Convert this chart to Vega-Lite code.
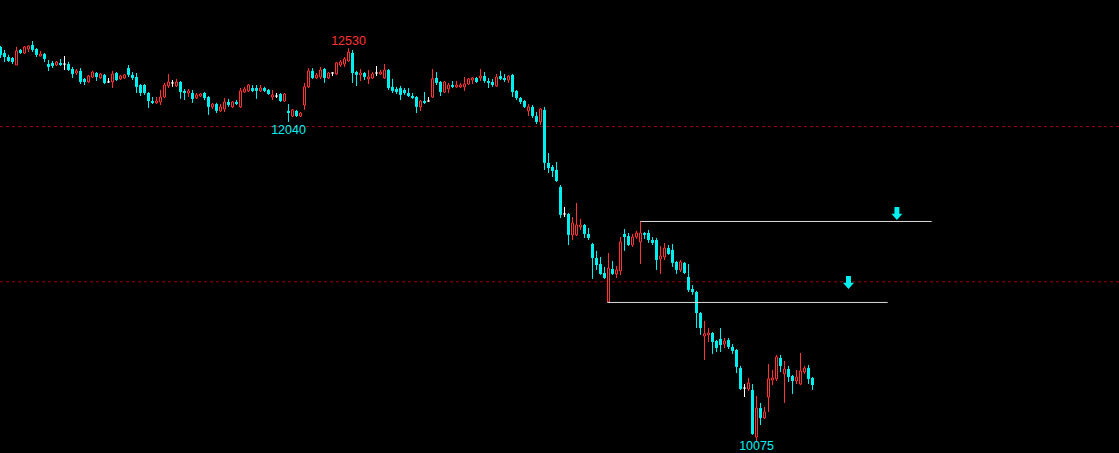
{
  "$schema": "https://vega.github.io/schema/vega-lite/v6.json",
  "width": 1119,
  "height": 453,
  "autosize": {"type": "none"},
  "padding": 0,
  "background": "#000000",
  "config": {"view": {"stroke": null}, "scale": {"continuousPadding": 0}},
  "datasets": {
    "candles": [
      {"i":0,"open":12538,"high":12544,"low":12469,"close":12488},
      {"i":1,"open":12500,"high":12519,"low":12444,"close":12475},
      {"i":2,"open":12475,"high":12488,"low":12444,"close":12450},
      {"i":3,"open":12469,"high":12475,"low":12431,"close":12444},
      {"i":4,"open":12425,"high":12538,"low":12425,"close":12513},
      {"i":5,"open":12519,"high":12525,"low":12494,"close":12500},
      {"i":6,"open":12500,"high":12544,"low":12494,"close":12538},
      {"i":7,"open":12525,"high":12550,"low":12506,"close":12544},
      {"i":8,"open":12550,"high":12575,"low":12506,"close":12519},
      {"i":9,"open":12525,"high":12531,"low":12475,"close":12488},
      {"i":10,"open":12481,"high":12513,"low":12481,"close":12494},
      {"i":11,"open":12494,"high":12500,"low":12444,"close":12463},
      {"i":12,"open":12431,"high":12456,"low":12388,"close":12413},
      {"i":13,"open":12438,"high":12450,"low":12406,"close":12419},
      {"i":14,"open":12425,"high":12450,"low":12419,"close":12444},
      {"i":15,"open":12438,"high":12463,"low":12419,"close":12425},
      {"i":16,"open":12431,"high":12481,"low":12394,"close":12431},
      {"i":17,"open":12431,"high":12444,"low":12388,"close":12394},
      {"i":18,"open":12400,"high":12413,"low":12344,"close":12369},
      {"i":19,"open":12375,"high":12400,"low":12363,"close":12388},
      {"i":20,"open":12388,"high":12406,"low":12306,"close":12319},
      {"i":21,"open":12338,"high":12344,"low":12300,"close":12319},
      {"i":22,"open":12319,"high":12363,"low":12313,"close":12356},
      {"i":23,"open":12350,"high":12388,"low":12344,"close":12381},
      {"i":24,"open":12375,"high":12381,"low":12325,"close":12350},
      {"i":25,"open":12344,"high":12375,"low":12338,"close":12369},
      {"i":26,"open":12363,"high":12369,"low":12306,"close":12313},
      {"i":27,"open":12319,"high":12344,"low":12313,"close":12319},
      {"i":28,"open":12319,"high":12388,"low":12281,"close":12369},
      {"i":29,"open":12375,"high":12381,"low":12325,"close":12331},
      {"i":30,"open":12338,"high":12363,"low":12331,"close":12356},
      {"i":31,"open":12344,"high":12369,"low":12338,"close":12363},
      {"i":32,"open":12406,"high":12425,"low":12350,"close":12363},
      {"i":33,"open":12363,"high":12381,"low":12331,"close":12344},
      {"i":34,"open":12350,"high":12375,"low":12250,"close":12288},
      {"i":35,"open":12300,"high":12306,"low":12231,"close":12250},
      {"i":36,"open":12300,"high":12306,"low":12238,"close":12250},
      {"i":37,"open":12250,"high":12256,"low":12156,"close":12200},
      {"i":38,"open":12200,"high":12225,"low":12181,"close":12188},
      {"i":39,"open":12188,"high":12225,"low":12181,"close":12200},
      {"i":40,"open":12194,"high":12269,"low":12175,"close":12225},
      {"i":41,"open":12225,"high":12313,"low":12219,"close":12300},
      {"i":42,"open":12294,"high":12369,"low":12281,"close":12319},
      {"i":43,"open":12313,"high":12331,"low":12288,"close":12313},
      {"i":44,"open":12294,"high":12338,"low":12288,"close":12319},
      {"i":45,"open":12319,"high":12325,"low":12213,"close":12256},
      {"i":46,"open":12263,"high":12275,"low":12206,"close":12250},
      {"i":47,"open":12250,"high":12275,"low":12225,"close":12263},
      {"i":48,"open":12250,"high":12269,"low":12188,"close":12213},
      {"i":49,"open":12219,"high":12250,"low":12213,"close":12238},
      {"i":50,"open":12231,"high":12250,"low":12225,"close":12244},
      {"i":51,"open":12250,"high":12256,"low":12206,"close":12219},
      {"i":52,"open":12225,"high":12231,"low":12113,"close":12163},
      {"i":53,"open":12163,"high":12188,"low":12150,"close":12181},
      {"i":54,"open":12181,"high":12188,"low":12125,"close":12138},
      {"i":55,"open":12138,"high":12181,"low":12131,"close":12163},
      {"i":56,"open":12150,"high":12219,"low":12131,"close":12194},
      {"i":57,"open":12194,"high":12213,"low":12163,"close":12175},
      {"i":58,"open":12163,"high":12200,"low":12156,"close":12194},
      {"i":59,"open":12194,"high":12206,"low":12175,"close":12181},
      {"i":60,"open":12163,"high":12281,"low":12156,"close":12263},
      {"i":61,"open":12256,"high":12288,"low":12250,"close":12275},
      {"i":62,"open":12263,"high":12306,"low":12256,"close":12300},
      {"i":63,"open":12281,"high":12300,"low":12256,"close":12263},
      {"i":64,"open":12281,"high":12300,"low":12213,"close":12263},
      {"i":65,"open":12263,"high":12300,"low":12256,"close":12281},
      {"i":66,"open":12281,"high":12288,"low":12256,"close":12263},
      {"i":67,"open":12269,"high":12275,"low":12238,"close":12244},
      {"i":68,"open":12225,"high":12269,"low":12206,"close":12238},
      {"i":69,"open":12231,"high":12250,"low":12219,"close":12231},
      {"i":70,"open":12244,"high":12250,"low":12194,"close":12200},
      {"i":71,"open":12200,"high":12250,"low":12194,"close":12244},
      {"i":72,"open":12138,"high":12181,"low":12069,"close":12125},
      {"i":73,"open":12106,"high":12150,"low":12100,"close":12144},
      {"i":74,"open":12138,"high":12144,"low":12100,"close":12106},
      {"i":75,"open":12106,"high":12131,"low":12100,"close":12125},
      {"i":76,"open":12175,"high":12313,"low":12144,"close":12288},
      {"i":77,"open":12288,"high":12406,"low":12281,"close":12388},
      {"i":78,"open":12388,"high":12406,"low":12338,"close":12344},
      {"i":79,"open":12344,"high":12375,"low":12338,"close":12363},
      {"i":80,"open":12350,"high":12413,"low":12338,"close":12394},
      {"i":81,"open":12400,"high":12406,"low":12313,"close":12344},
      {"i":82,"open":12344,"high":12381,"low":12338,"close":12375},
      {"i":83,"open":12375,"high":12381,"low":12356,"close":12375},
      {"i":84,"open":12369,"high":12444,"low":12363,"close":12438},
      {"i":85,"open":12425,"high":12456,"low":12413,"close":12444},
      {"i":86,"open":12431,"high":12475,"low":12413,"close":12463},
      {"i":87,"open":12450,"high":12530,"low":12444,"close":12506},
      {"i":88,"open":12500,"high":12519,"low":12313,"close":12375},
      {"i":89,"open":12381,"high":12388,"low":12294,"close":12363},
      {"i":90,"open":12363,"high":12400,"low":12325,"close":12375},
      {"i":91,"open":12375,"high":12381,"low":12331,"close":12350},
      {"i":92,"open":12338,"high":12394,"low":12306,"close":12350},
      {"i":93,"open":12344,"high":12381,"low":12338,"close":12369},
      {"i":94,"open":12375,"high":12419,"low":12356,"close":12375},
      {"i":95,"open":12369,"high":12394,"low":12363,"close":12381},
      {"i":96,"open":12344,"high":12431,"low":12338,"close":12394},
      {"i":97,"open":12394,"high":12400,"low":12269,"close":12281},
      {"i":98,"open":12288,"high":12338,"low":12250,"close":12263},
      {"i":99,"open":12275,"high":12288,"low":12244,"close":12256},
      {"i":100,"open":12281,"high":12294,"low":12206,"close":12238},
      {"i":101,"open":12269,"high":12281,"low":12238,"close":12250},
      {"i":102,"open":12250,"high":12281,"low":12225,"close":12231},
      {"i":103,"open":12231,"high":12250,"low":12213,"close":12219},
      {"i":104,"open":12225,"high":12231,"low":12125,"close":12163},
      {"i":105,"open":12163,"high":12206,"low":12138,"close":12200},
      {"i":106,"open":12200,"high":12256,"low":12181,"close":12188},
      {"i":107,"open":12200,"high":12225,"low":12194,"close":12200},
      {"i":108,"open":12225,"high":12400,"low":12219,"close":12338},
      {"i":109,"open":12344,"high":12381,"low":12300,"close":12313},
      {"i":110,"open":12319,"high":12325,"low":12231,"close":12256},
      {"i":111,"open":12256,"high":12325,"low":12250,"close":12319},
      {"i":112,"open":12275,"high":12313,"low":12250,"close":12300},
      {"i":113,"open":12300,"high":12325,"low":12281,"close":12288},
      {"i":114,"open":12288,"high":12325,"low":12281,"close":12300},
      {"i":115,"open":12288,"high":12313,"low":12281,"close":12300},
      {"i":116,"open":12288,"high":12350,"low":12263,"close":12306},
      {"i":117,"open":12306,"high":12344,"low":12300,"close":12338},
      {"i":118,"open":12331,"high":12350,"low":12306,"close":12344},
      {"i":119,"open":12344,"high":12350,"low":12313,"close":12319},
      {"i":120,"open":12344,"high":12400,"low":12325,"close":12356},
      {"i":121,"open":12356,"high":12381,"low":12313,"close":12325},
      {"i":122,"open":12325,"high":12344,"low":12281,"close":12313},
      {"i":123,"open":12319,"high":12338,"low":12288,"close":12300},
      {"i":124,"open":12294,"high":12369,"low":12288,"close":12350},
      {"i":125,"open":12356,"high":12388,"low":12331,"close":12338},
      {"i":126,"open":12344,"high":12369,"low":12319,"close":12331},
      {"i":127,"open":12331,"high":12363,"low":12313,"close":12356},
      {"i":128,"open":12363,"high":12369,"low":12225,"close":12256},
      {"i":129,"open":12263,"high":12269,"low":12206,"close":12219},
      {"i":130,"open":12219,"high":12225,"low":12181,"close":12194},
      {"i":131,"open":12200,"high":12206,"low":12156,"close":12163},
      {"i":132,"open":12138,"high":12181,"low":12106,"close":12163},
      {"i":133,"open":12163,"high":12175,"low":12094,"close":12106},
      {"i":134,"open":12106,"high":12131,"low":12056,"close":12069},
      {"i":135,"open":12069,"high":12156,"low":12050,"close":12150},
      {"i":136,"open":12144,"high":12163,"low":11769,"close":11813},
      {"i":137,"open":11813,"high":11875,"low":11750,"close":11781},
      {"i":138,"open":11788,"high":11800,"low":11725,"close":11763},
      {"i":139,"open":11769,"high":11819,"low":11694,"close":11700},
      {"i":140,"open":11663,"high":11675,"low":11469,"close":11488},
      {"i":141,"open":11494,"high":11538,"low":11475,"close":11494},
      {"i":142,"open":11494,"high":11500,"low":11300,"close":11363},
      {"i":143,"open":11363,"high":11475,"low":11331,"close":11438},
      {"i":144,"open":11363,"high":11563,"low":11356,"close":11425},
      {"i":145,"open":11413,"high":11463,"low":11394,"close":11425},
      {"i":146,"open":11425,"high":11431,"low":11344,"close":11369},
      {"i":147,"open":11369,"high":11406,"low":11331,"close":11344},
      {"i":148,"open":11306,"high":11313,"low":11088,"close":11219},
      {"i":149,"open":11219,"high":11263,"low":11144,"close":11175},
      {"i":150,"open":11181,"high":11225,"low":11113,"close":11119},
      {"i":151,"open":11125,"high":11163,"low":11088,"close":11094},
      {"i":152,"open":10944,"high":11250,"low":10944,"close":11156},
      {"i":153,"open":11150,"high":11200,"low":11113,"close":11119},
      {"i":154,"open":11119,"high":11169,"low":11094,"close":11144},
      {"i":155,"open":11138,"high":11350,"low":11113,"close":11319},
      {"i":156,"open":11369,"high":11400,"low":11263,"close":11350},
      {"i":157,"open":11356,"high":11375,"low":11294,"close":11300},
      {"i":158,"open":11300,"high":11369,"low":11288,"close":11350},
      {"i":159,"open":11350,"high":11388,"low":11338,"close":11375},
      {"i":160,"open":11319,"high":11450,"low":11181,"close":11375},
      {"i":161,"open":11375,"high":11381,"low":11338,"close":11363},
      {"i":162,"open":11375,"high":11394,"low":11313,"close":11331},
      {"i":163,"open":11331,"high":11350,"low":11300,"close":11313},
      {"i":164,"open":11331,"high":11344,"low":11144,"close":11206},
      {"i":165,"open":11213,"high":11294,"low":11119,"close":11231},
      {"i":166,"open":11225,"high":11313,"low":11206,"close":11281},
      {"i":167,"open":11281,"high":11300,"low":11238,"close":11244},
      {"i":168,"open":11269,"high":11306,"low":11163,"close":11188},
      {"i":169,"open":11194,"high":11200,"low":11119,"close":11144},
      {"i":170,"open":11144,"high":11206,"low":11131,"close":11194},
      {"i":171,"open":11188,"high":11194,"low":11119,"close":11125},
      {"i":172,"open":11100,"high":11181,"low":11006,"close":11019},
      {"i":173,"open":11025,"high":11050,"low":10988,"close":11006},
      {"i":174,"open":11006,"high":11013,"low":10781,"close":10875},
      {"i":175,"open":10875,"high":10881,"low":10738,"close":10781},
      {"i":176,"open":10731,"high":10825,"low":10581,"close":10744},
      {"i":177,"open":10738,"high":10781,"low":10694,"close":10750},
      {"i":178,"open":10750,"high":10756,"low":10619,"close":10694},
      {"i":179,"open":10700,"high":10706,"low":10631,"close":10656},
      {"i":180,"open":10713,"high":10781,"low":10631,"close":10675},
      {"i":181,"open":10681,"high":10719,"low":10656,"close":10700},
      {"i":182,"open":10706,"high":10719,"low":10650,"close":10663},
      {"i":183,"open":10663,"high":10681,"low":10619,"close":10638},
      {"i":184,"open":10644,"high":10650,"low":10500,"close":10538},
      {"i":185,"open":10531,"high":10544,"low":10394,"close":10400},
      {"i":186,"open":10406,"high":10431,"low":10350,"close":10406},
      {"i":187,"open":10400,"high":10469,"low":10388,"close":10438},
      {"i":188,"open":10394,"high":10431,"low":10113,"close":10119},
      {"i":189,"open":10100,"high":10356,"low":10075,"close":10281},
      {"i":190,"open":10281,"high":10313,"low":10175,"close":10219},
      {"i":191,"open":10219,"high":10288,"low":10213,"close":10256},
      {"i":192,"open":10350,"high":10556,"low":10256,"close":10463},
      {"i":193,"open":10456,"high":10519,"low":10425,"close":10469},
      {"i":194,"open":10463,"high":10613,"low":10450,"close":10600},
      {"i":195,"open":10594,"high":10613,"low":10506,"close":10544},
      {"i":196,"open":10494,"high":10575,"low":10313,"close":10525},
      {"i":197,"open":10525,"high":10544,"low":10444,"close":10475},
      {"i":198,"open":10481,"high":10488,"low":10369,"close":10450},
      {"i":199,"open":10450,"high":10519,"low":10431,"close":10475},
      {"i":200,"open":10431,"high":10625,"low":10425,"close":10513},
      {"i":201,"open":10506,"high":10544,"low":10494,"close":10531},
      {"i":202,"open":10531,"high":10550,"low":10431,"close":10463},
      {"i":203,"open":10469,"high":10475,"low":10394,"close":10425}
    ],
    "levels": [
      {"price": 12040},
      {"price": 11070}
    ],
    "segments": [
      {"from": 160, "to": 232.8, "price": 11447},
      {"from": 151.7, "to": 221.8, "price": 10941}
    ],
    "arrows": [
      {"i": 224.1, "price": 11497},
      {"i": 212, "price": 11066}
    ],
    "highLabels": [
      {"i": 87, "price": 12530, "label": "12530"}
    ],
    "midLowLabels": [
      {"i": 72, "price": 12069, "label": "12040"}
    ],
    "bottomLabels": [
      {"i": 189, "price": 10075, "label": "10075"}
    ]
  },
  "layer": [
    {
      "data": {"name": "levels"},
      "mark": {"type": "rule", "color": "#A00000", "strokeWidth": 1, "strokeDash": [3, 3]},
      "encoding": {
        "y": {"field": "price", "type": "quantitative", "scale": {"domain": [10000, 12831.25], "nice": false, "zero": false, "padding": 0}, "axis": null}
      }
    },
    {
      "data": {"name": "candles"},
      "transform": [{"filter": "datum.close < datum.open"}],
      "layer": [
        {
          "mark": {"type": "rule", "color": "#00F0F0", "strokeWidth": 1},
          "encoding": {
            "x": {"field": "i", "type": "quantitative", "scale": {"domain": [-0.125, 279.625], "nice": false, "zero": false, "padding": 0}, "axis": null},
            "y": {"field": "low", "type": "quantitative"},
            "y2": {"field": "high"}
          }
        },
        {
          "mark": {"type": "bar", "orient": "vertical", "size": 3, "fill": "#00F0F0", "strokeWidth": 0},
          "encoding": {
            "x": {"field": "i", "type": "quantitative"},
            "y": {"field": "open", "type": "quantitative"},
            "y2": {"field": "close"}
          }
        }
      ]
    },
    {
      "data": {"name": "candles"},
      "transform": [{"filter": "datum.close > datum.open"}],
      "layer": [
        {
          "mark": {"type": "rule", "color": "#FF3333", "strokeWidth": 1},
          "encoding": {
            "x": {"field": "i", "type": "quantitative"},
            "y": {"field": "low", "type": "quantitative"},
            "y2": {"field": "high"}
          }
        },
        {
          "mark": {"type": "bar", "orient": "vertical", "size": 2, "fill": "#000000", "stroke": "#FF3333", "strokeWidth": 1},
          "encoding": {
            "x": {"field": "i", "type": "quantitative"},
            "y": {"field": "open", "type": "quantitative"},
            "y2": {"field": "close"}
          }
        }
      ]
    },
    {
      "data": {"name": "candles"},
      "transform": [{"filter": "datum.close == datum.open"}],
      "layer": [
        {
          "mark": {"type": "rule", "color": "#FFFFFF", "strokeWidth": 1},
          "encoding": {
            "x": {"field": "i", "type": "quantitative"},
            "y": {"field": "low", "type": "quantitative"},
            "y2": {"field": "high"}
          }
        },
        {
          "mark": {"type": "tick", "orient": "horizontal", "size": 3, "thickness": 1, "color": "#FFFFFF", "opacity": 1},
          "encoding": {
            "x": {"field": "i", "type": "quantitative"},
            "y": {"field": "open", "type": "quantitative"}
          }
        }
      ]
    },
    {
      "data": {"name": "segments"},
      "mark": {"type": "rule", "color": "#DCDCDC", "strokeWidth": 1},
      "encoding": {
        "x": {"field": "from", "type": "quantitative"},
        "x2": {"field": "to"},
        "y": {"field": "price", "type": "quantitative"}
      }
    },
    {
      "data": {"name": "arrows"},
      "mark": {"type": "point", "shape": "M-0.38,-1L0.38,-1L0.38,0.05L0.85,0.05L0,1L-0.85,0.05L-0.38,0.05Z", "size": 169, "filled": true, "fill": "#00F0F0", "strokeWidth": 0, "opacity": 1},
      "encoding": {
        "x": {"field": "i", "type": "quantitative"},
        "y": {"field": "price", "type": "quantitative"}
      }
    },
    {
      "data": {"name": "highLabels"},
      "mark": {"type": "text", "font": "Liberation Sans", "fontSize": 12.5, "color": "#FF3333", "align": "center", "baseline": "alphabetic", "dy": -3.5},
      "encoding": {
        "x": {"field": "i", "type": "quantitative"},
        "y": {"field": "price", "type": "quantitative"},
        "text": {"field": "label"}
      }
    },
    {
      "data": {"name": "midLowLabels"},
      "mark": {"type": "text", "font": "Liberation Sans", "fontSize": 12.5, "color": "#00F0F0", "align": "center", "baseline": "alphabetic", "dy": 12},
      "encoding": {
        "x": {"field": "i", "type": "quantitative"},
        "y": {"field": "price", "type": "quantitative"},
        "text": {"field": "label"}
      }
    },
    {
      "data": {"name": "bottomLabels"},
      "mark": {"type": "text", "font": "Liberation Sans", "fontSize": 12.5, "color": "#00F0F0", "align": "center", "baseline": "alphabetic", "dy": 9.2},
      "encoding": {
        "x": {"field": "i", "type": "quantitative"},
        "y": {"field": "price", "type": "quantitative"},
        "text": {"field": "label"}
      }
    }
  ]
}
